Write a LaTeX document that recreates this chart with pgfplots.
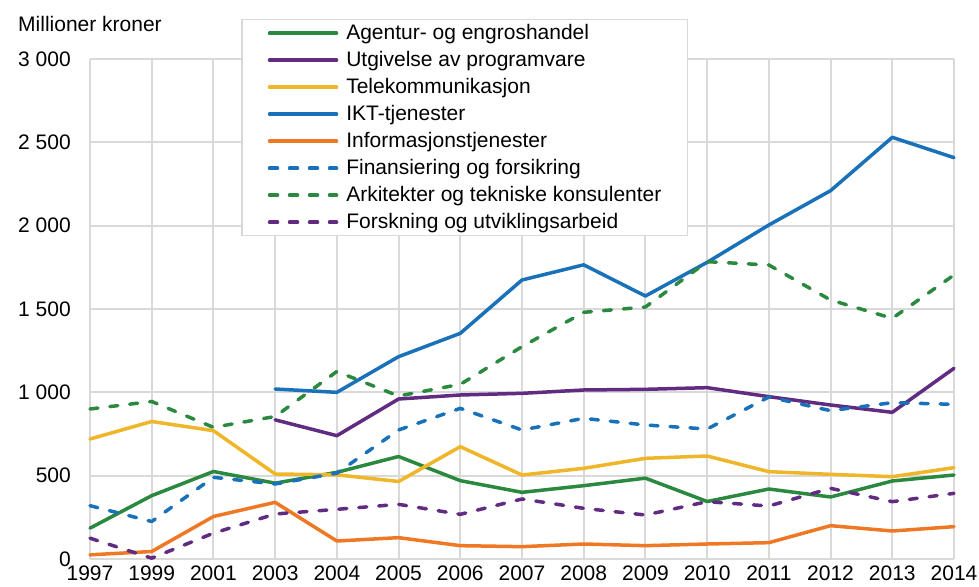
\documentclass[border=0pt]{standalone}
\usepackage{pgfplots}
\pgfplotsset{compat=1.18}
\usepackage{pgfplotstable}
\usepackage{fontspec}
\setmainfont{Liberation Sans}
\definecolor{cgreen}{RGB}{42,137,62}
\definecolor{cpurple}{RGB}{96,43,128}
\definecolor{cyellow}{RGB}{238,182,40}
\definecolor{cblue}{RGB}{24,113,185}
\definecolor{corange}{RGB}{239,120,36}
\definecolor{gridgray}{RGB}{217,217,217}
\pgfplotstableread{
x agentur utgiv tele ikt info fin ark fou
0 185 nan 720 nan 25 320 900 125
1 380 nan 825 nan 45 225 945 5
2 525 nan 770 nan 255 490 790 155
3 455 835 510 1020 340 450 855 270
4 520 740 505 1000 108 515 1125 298
5 615 960 465 1214 128 774 978 328
6 470 984 674 1354 80 904 1048 268
7 400 994 504 1674 74 774 1274 360
8 440 1014 544 1765 90 844 1480 304
9 485 1018 604 1578 80 804 1512 264
10 345 1028 618 1780 90 780 1784 344
11 420 974 524 2004 98 972 1764 318
12 372 924 508 2210 200 890 1554 424
13 468 880 494 2530 168 938 1444 344
14 504 1144 548 2408 194 928 1704 394
}\data
\begin{document}
\fontsize{21bp}{25bp}\selectfont
\begin{tikzpicture}
\begin{axis}[
  scale only axis, width=864bp, height=500bp,
  xmin=0, xmax=14, ymin=0, ymax=3000,
  clip=false,
  axis line style={draw=none},
  major tick length=0pt,
  grid=major,
  major grid style={draw=gridgray, line width=2bp},
  xtick={0,...,14},
  xticklabels={1997,1999,2001,2003,2004,2005,2006,2007,2008,2009,2010,2011,2012,2013,2014},
  ytick={0,500,1000,1500,2000,2500,3000},
  yticklabels={0,500,1 000,1 500,2 000,2 500,3 000},
  xticklabel style={anchor=north, inner sep=0pt, yshift=-7bp},
  yticklabel style={anchor=east, inner sep=0pt, xshift=-19bp},
  legend cell align=left,
  legend image code/.code={\draw[#1] (0bp,0bp) -- (67bp,0bp);},
  legend style={at={(axis description cs:0.1748,1.08)}, anchor=north west,
    draw=gridgray, line width=1.5bp, fill=white,
    inner xsep=26bp, inner ysep=0bp, row sep=0pt,
    nodes={inner sep=0pt, minimum height=27bp},
    /tikz/every odd column/.append style={column sep=8bp}},
  every axis plot/.append style={line width=3.5bp, line join=round},
  dashedline/.style={dash pattern=on 8bp off 12bp, line cap=round},
]
\addplot[cgreen, line cap=round] table[x=x,y=agentur]{\data};
\addlegendentry{Agentur- og engroshandel}
\addplot[cpurple, line cap=round] table[x=x,y=utgiv]{\data};
\addlegendentry{Utgivelse av programvare}
\addplot[cyellow, line cap=round] table[x=x,y=tele]{\data};
\addlegendentry{Telekommunikasjon}
\addplot[cblue, line cap=round] table[x=x,y=ikt]{\data};
\addlegendentry{IKT-tjenester}
\addplot[corange, line cap=round] table[x=x,y=info]{\data};
\addlegendentry{Informasjonstjenester}
\addplot[cblue, dashedline] table[x=x,y=fin]{\data};
\addlegendentry{Finansiering og forsikring}
\addplot[cgreen, dashedline] table[x=x,y=ark]{\data};
\addlegendentry{Arkitekter og tekniske konsulenter}
\addplot[cpurple, dashedline] table[x=x,y=fou]{\data};
\addlegendentry{Forskning og utviklingsarbeid}
\end{axis}
\node[anchor=base west, inner sep=0pt] at (-72bp,527bp) {Millioner kroner};
\pgfresetboundingbox
\useasboundingbox (-90bp,-28bp) rectangle (889bp,559bp);
\end{tikzpicture}
\end{document}
